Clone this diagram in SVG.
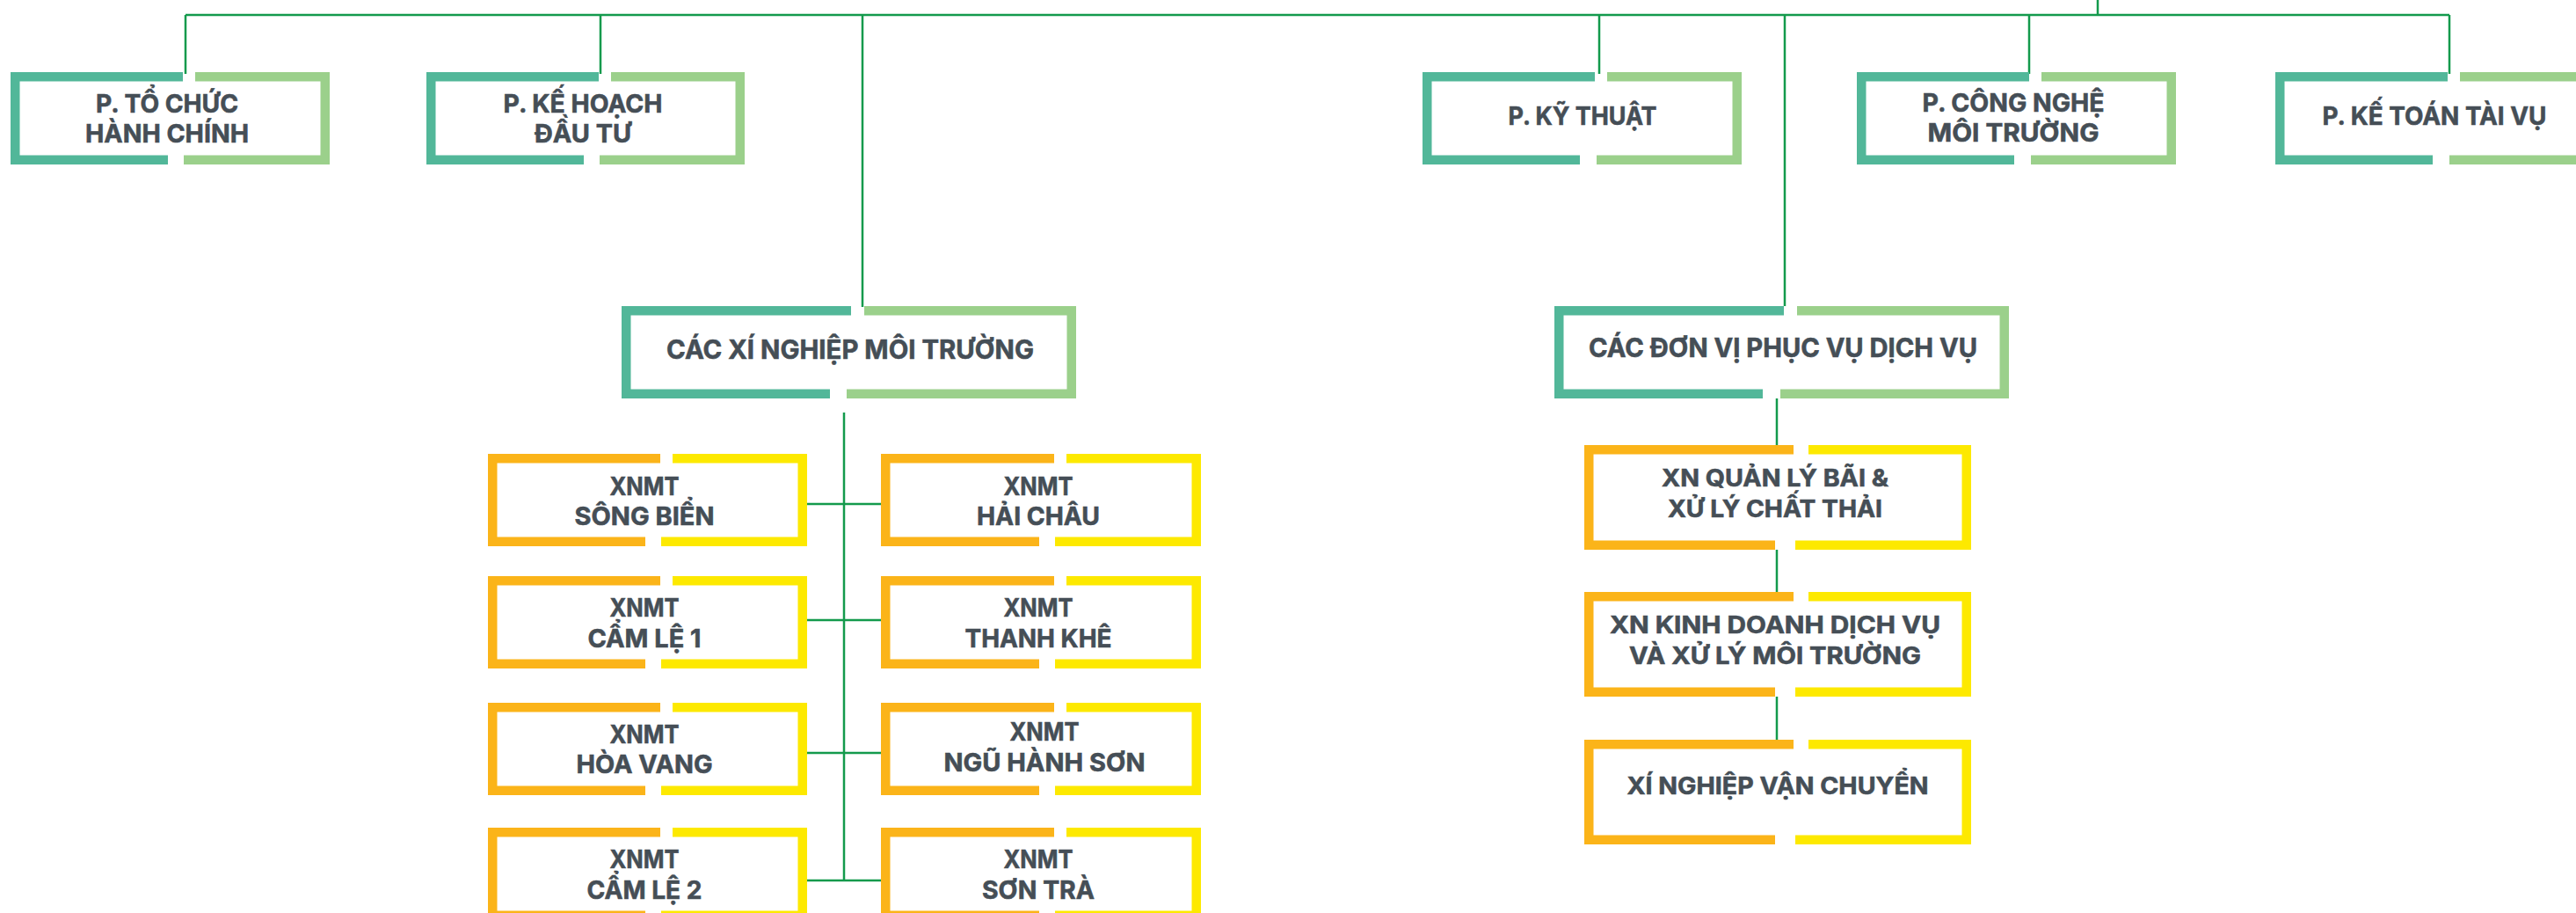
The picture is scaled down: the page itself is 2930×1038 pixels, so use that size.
<svg xmlns="http://www.w3.org/2000/svg" width="2930" height="1038" viewBox="0 0 2930 1038">
<style>
.b{fill:none;stroke-width:10.5;stroke-linejoin:miter;stroke-linecap:butt}
.g1{stroke:#52b799}.g2{stroke:#9bd08b}.o1{stroke:#fbb419}.y1{stroke:#fde900}
.c{fill:none;stroke:#139a4c;stroke-width:2.5}
text{font-family:Inter,"Noto Sans","Liberation Sans",sans-serif;font-weight:700;fill:#454e56;stroke:#454e56;stroke-width:0.6;text-anchor:middle}
.t29{font-size:29px}.t30{font-size:30px}.t27{font-size:27px}
</style>
<rect width="2930" height="1038" fill="#fff"/>
<g id="connectors">
<path class="c" d="M211,17H2786M2386,0V17M211,17V84M683,17V84M1819,17V84M2308,17V84M2786,17V84"/>
<path class="c" d="M981,17V349M2030,17V348"/>
<path class="c" d="M960,469V1001M918,573H1002M918,705H1002M918,856H1002M918,1001H1002"/>
<path class="c" d="M2021,453V507M2021,625V673M2021,792V841"/>
</g>
<g id="p-to-chuc">
<path class="b g1" d="M208,87.25H17.25V181.75H191"/>
<path class="b g2" d="M222,87.25H369.75V181.75H209"/>
<text class="t29" x="190" y="128" textLength="162" lengthAdjust="spacingAndGlyphs">P. TỔ CHỨC</text>
<text class="t29" x="190" y="162" textLength="186" lengthAdjust="spacingAndGlyphs">HÀNH CHÍNH</text>
</g>
<g id="p-ke-hoach">
<path class="b g1" d="M681,87.25H490.25V181.75H664"/>
<path class="b g2" d="M695,87.25H841.75V181.75H682"/>
<text class="t29" x="663" y="128" textLength="181" lengthAdjust="spacingAndGlyphs">P. KẾ HOẠCH</text>
<text class="t29" x="663" y="162" textLength="110" lengthAdjust="spacingAndGlyphs">ĐẦU TƯ</text>
</g>
<g id="p-ky-thuat">
<path class="b g1" d="M1814,87.25H1623.25V181.75H1797"/>
<path class="b g2" d="M1828,87.25H1975.75V181.75H1816"/>
<text class="t29" x="1800" y="142" textLength="169" lengthAdjust="spacingAndGlyphs">P. KỸ THUẬT</text>
</g>
<g id="p-cong-nghe">
<path class="b g1" d="M2308,87.25H2117.25V181.75H2291"/>
<path class="b g2" d="M2322,87.25H2469.75V181.75H2310"/>
<text class="t29" x="2290" y="127" textLength="207" lengthAdjust="spacingAndGlyphs">P. CÔNG NGHỆ</text>
<text class="t29" x="2290" y="161" textLength="195" lengthAdjust="spacingAndGlyphs">MÔI TRƯỜNG</text>
</g>
<g id="p-ke-toan">
<path class="b g1" d="M2784,87.25H2593.25V181.75H2767"/>
<path class="b g2" d="M2798,87.25H2945.75V181.75H2786"/>
<text class="t29" x="2769" y="142" textLength="255" lengthAdjust="spacingAndGlyphs">P. KẾ TOÁN TÀI VỤ</text>
</g>
<g id="cac-xi-nghiep">
<path class="b g1" d="M968,353.25H712.25V447.75H944"/>
<path class="b g2" d="M983,353.25H1218.75V447.75H963"/>
<text class="t30" x="967" y="408" textLength="418" lengthAdjust="spacingAndGlyphs">CÁC XÍ NGHIỆP MÔI TRƯỜNG</text>
</g>
<g id="cac-don-vi">
<path class="b g1" d="M2029,353.25H1773.25V447.75H2005"/>
<path class="b g2" d="M2044,353.25H2279.75V447.75H2025"/>
<text class="t30" x="2028" y="406" textLength="442" lengthAdjust="spacingAndGlyphs">CÁC ĐƠN VỊ PHỤC VỤ DỊCH VỤ</text>
</g>
<g id="xnmt-song-bien">
<path class="b o1" d="M751,521.25H560.25V615.75H734"/>
<path class="b y1" d="M765,521.25H912.75V615.75H752"/>
<text class="t29" x="733" y="563" textLength="79" lengthAdjust="spacingAndGlyphs">XNMT</text>
<text class="t29" x="733" y="597" textLength="159" lengthAdjust="spacingAndGlyphs">SÔNG BIỂN</text>
</g>
<g id="xnmt-cam-le-1">
<path class="b o1" d="M751,660.25H560.25V754.75H734"/>
<path class="b y1" d="M765,660.25H912.75V754.75H752"/>
<text class="t29" x="733" y="701" textLength="79" lengthAdjust="spacingAndGlyphs">XNMT</text>
<text class="t29" x="733" y="736" textLength="129" lengthAdjust="spacingAndGlyphs">CẨM LỆ 1</text>
</g>
<g id="xnmt-hoa-vang">
<path class="b o1" d="M751,804.25H560.25V898.75H734"/>
<path class="b y1" d="M765,804.25H912.75V898.75H752"/>
<text class="t29" x="733" y="845" textLength="79" lengthAdjust="spacingAndGlyphs">XNMT</text>
<text class="t29" x="733" y="879" textLength="155" lengthAdjust="spacingAndGlyphs">HÒA VANG</text>
</g>
<g id="xnmt-cam-le-2">
<path class="b o1" d="M751,946.25H560.25V1040.75H734"/>
<path class="b y1" d="M765,946.25H912.75V1040.75H752"/>
<text class="t29" x="733" y="987" textLength="79" lengthAdjust="spacingAndGlyphs">XNMT</text>
<text class="t29" x="733" y="1022" textLength="131" lengthAdjust="spacingAndGlyphs">CẨM LỆ 2</text>
</g>
<g id="xnmt-hai-chau">
<path class="b o1" d="M1199,521.25H1007.25V615.75H1182"/>
<path class="b y1" d="M1213,521.25H1360.75V615.75H1200"/>
<text class="t29" x="1181" y="563" textLength="79" lengthAdjust="spacingAndGlyphs">XNMT</text>
<text class="t29" x="1181" y="597" textLength="140" lengthAdjust="spacingAndGlyphs">HẢI CHÂU</text>
</g>
<g id="xnmt-thanh-khe">
<path class="b o1" d="M1199,660.25H1007.25V754.75H1182"/>
<path class="b y1" d="M1213,660.25H1360.75V754.75H1200"/>
<text class="t29" x="1181" y="701" textLength="79" lengthAdjust="spacingAndGlyphs">XNMT</text>
<text class="t29" x="1181" y="736" textLength="167" lengthAdjust="spacingAndGlyphs">THANH KHÊ</text>
</g>
<g id="xnmt-ngu-hanh-son">
<path class="b o1" d="M1199,804.25H1007.25V898.75H1182"/>
<path class="b y1" d="M1213,804.25H1360.75V898.75H1200"/>
<text class="t29" x="1188" y="842" textLength="79" lengthAdjust="spacingAndGlyphs">XNMT</text>
<text class="t29" x="1188" y="877" textLength="229" lengthAdjust="spacingAndGlyphs">NGŨ HÀNH SƠN</text>
</g>
<g id="xnmt-son-tra">
<path class="b o1" d="M1199,946.25H1007.25V1040.75H1182"/>
<path class="b y1" d="M1213,946.25H1360.75V1040.75H1200"/>
<text class="t29" x="1181" y="987" textLength="79" lengthAdjust="spacingAndGlyphs">XNMT</text>
<text class="t29" x="1181" y="1022" textLength="128" lengthAdjust="spacingAndGlyphs">SƠN TRÀ</text>
</g>
<g id="xn-quan-ly-bai">
<path class="b o1" d="M2040,511.25H1807.25V619.75H2019"/>
<path class="b y1" d="M2057,511.25H2236.75V619.75H2042"/>
<text class="t27" x="2019" y="553" textLength="258" lengthAdjust="spacingAndGlyphs">XN QUẢN LÝ BÃI &amp;</text>
<text class="t27" x="2019" y="588" textLength="244" lengthAdjust="spacingAndGlyphs">XỬ LÝ CHẤT THẢI</text>
</g>
<g id="xn-kinh-doanh">
<path class="b o1" d="M2040,678.25H1807.25V786.75H2019"/>
<path class="b y1" d="M2057,678.25H2236.75V786.75H2042"/>
<text class="t27" x="2019" y="720" textLength="376" lengthAdjust="spacingAndGlyphs">XN KINH DOANH DỊCH VỤ</text>
<text class="t27" x="2019" y="755" textLength="332" lengthAdjust="spacingAndGlyphs">VÀ XỬ LÝ MÔI TRƯỜNG</text>
</g>
<g id="xn-van-chuyen">
<path class="b o1" d="M2040,846.25H1807.25V954.75H2019"/>
<path class="b y1" d="M2057,846.25H2236.75V954.75H2042"/>
<text class="t27" x="2022" y="903" textLength="343" lengthAdjust="spacingAndGlyphs">XÍ NGHIỆP VẬN CHUYỂN</text>
</g>
</svg>
